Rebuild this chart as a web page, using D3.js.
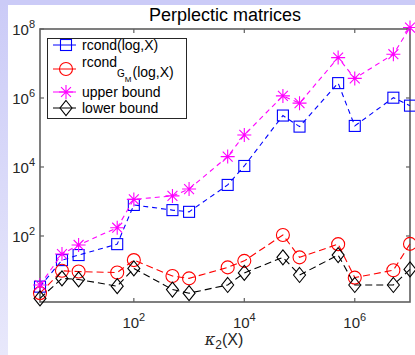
<!DOCTYPE html>
<html>
<head>
<meta charset="utf-8">
<script src="https://cdn.jsdelivr.net/npm/d3@7"></script>
<style>
  html, body { margin: 0; padding: 0; background: #fff; }
  svg { display: block; font-family: "Liberation Sans", Arial, sans-serif; }
</style>
</head>
<body>
<div id="chart"></div>
<script>
// kappa_2(X) of the test matrices
const kappa = [2, 5, 10, 50, 100, 500, 1000, 5000, 1e4, 5e4, 1e5, 5e5, 1e6, 5e6, 1e7];

const rcondLog = [3.4, 20, 28, 58, 794, 562, 501, 3020, 10700, 3.1e5, 1.48e5, 2.7e6, 1.55e5, 1.02e6, 6.0e5];
const rcondGM = [2.2, 9.8, 9.3, 8.7, 20, 6.9, 5.9, 12.3, 19, 107, 24, 58, 6.2, 10.2, 59];
const upperBound = [3.8, 30, 55, 174, 1150, 1450, 2290, 2.0e4, 8.5e4, 1.15e6, 7.1e5, 1.48e7, 3.7e6, 1.86e7, 1.1e8];
const lowerBound = [1.55, 5.9, 5.5, 3.5, 11.5, 2.8, 2.2, 3.8, 8.5, 24, 7.4, 28, 3.8, 3.8, 10.7];

const xTicks = [2, 4, 6];
const yTicks = [2, 4, 6, 8];

const W = 415, H = 355;
const margin = { top: 29, right: 5, bottom: 53, left: 40 };
const plotW = W - margin.left - margin.right;
const plotH = H - margin.top - margin.bottom;

const svg = d3.select('#chart').append('svg')
  .attr('width', W)
  .attr('height', H);

// lavender figure edge
const grad = svg.append('defs').append('linearGradient')
  .attr('id', 'edge').attr('x1', 0).attr('y1', 0).attr('x2', 0).attr('y2', 1);
grad.append('stop').attr('offset', '0%').attr('stop-color', '#cbcbf7');
grad.append('stop').attr('offset', '100%').attr('stop-color', '#e8e8fb');
svg.append('rect').attr('width', W).attr('height', H).attr('fill', '#fff');
svg.append('rect').attr('width', 8).attr('height', H).attr('fill', 'url(#edge)');
svg.append('rect').attr('width', W).attr('height', 5).attr('fill', '#cbcbf7');

const x = d3.scaleLog().domain([2, 1e7]).range([margin.left, margin.left + plotW]);
const y = d3.scaleLog().domain([1.22, 1e8]).range([margin.top + plotH, margin.top]);

const axisColor = '#5f5f5f';

// box with inward ticks
const axes = svg.append('g');
axes.append('rect')
  .attr('x', margin.left).attr('y', margin.top)
  .attr('width', plotW).attr('height', plotH)
  .attr('fill', 'none').attr('stroke', axisColor).attr('stroke-width', 1.6);

xTicks.forEach(e => {
  const px = x(Math.pow(10, e));
  axes.append('line').attr('x1', px).attr('x2', px)
    .attr('y1', margin.top + plotH).attr('y2', margin.top + plotH - 4)
    .attr('stroke', axisColor).attr('stroke-width', 1.2);
  axes.append('line').attr('x1', px).attr('x2', px)
    .attr('y1', margin.top).attr('y2', margin.top + 4)
    .attr('stroke', axisColor).attr('stroke-width', 1.2);
  const t = axes.append('text')
    .attr('x', px).attr('y', margin.top + plotH + 26)
    .attr('text-anchor', 'middle')
    .style('font-size', '15px').attr('fill', '#262626');
  t.append('tspan').text('10');
  t.append('tspan').attr('dy', -7).style('font-size', '11px').text(e);
});

yTicks.forEach(e => {
  const py = y(Math.pow(10, e));
  axes.append('line').attr('x1', margin.left).attr('x2', margin.left + 4)
    .attr('y1', py).attr('y2', py)
    .attr('stroke', axisColor).attr('stroke-width', 1.2);
  axes.append('line').attr('x1', margin.left + plotW).attr('x2', margin.left + plotW - 4)
    .attr('y1', py).attr('y2', py)
    .attr('stroke', axisColor).attr('stroke-width', 1.2);
  const t = axes.append('text')
    .attr('x', margin.left - 5).attr('y', py + 6)
    .attr('text-anchor', 'end')
    .style('font-size', '15px').attr('fill', '#262626');
  t.append('tspan').text('10');
  t.append('tspan').attr('dy', -7).style('font-size', '11px').text(e);
});

// title and x label
svg.append('text')
  .attr('x', 225).attr('y', 21)
  .attr('text-anchor', 'middle')
  .style('font-size', '18px').attr('fill', '#000')
  .text('Perplectic matrices');

const xl = svg.append('text')
  .attr('x', 224).attr('y', 345)
  .attr('text-anchor', 'middle')
  .style('font-size', '16px').attr('fill', '#262626');
xl.append('tspan').style('font-family', '"DejaVu Serif", serif').style('font-style', 'italic').text('κ');
xl.append('tspan').attr('dy', 4).style('font-size', '12px').text('2');
xl.append('tspan').attr('dy', -4).text('(X)');

// marker shapes
function drawMarker(g, kind, cx, cy, color) {
  const s = g.append('g').attr('transform', `translate(${cx},${cy})`)
    .attr('fill', 'none').attr('stroke', color).attr('stroke-width', 1.1);
  if (kind === 'square') {
    s.append('rect').attr('x', -5.5).attr('y', -5.5).attr('width', 11).attr('height', 11);
  } else if (kind === 'circle') {
    s.append('circle').attr('r', 6.5);
  } else if (kind === 'diamond') {
    s.append('path').attr('d', 'M0,-7.5L6,0L0,7.5L-6,0Z');
  } else {
    const r = 7;
    const d = r * Math.SQRT1_2;
    s.append('path').attr('d',
      `M${-r},0L${r},0M0,${-r}L0,${r}M${-d},${-d}L${d},${d}M${-d},${d}L${d},${-d}`);
  }
}

const series = [
  { name: 'rcond', values: rcondLog, color: '#0000ff', marker: 'square', dash: '5,4' },
  { name: 'gm', values: rcondGM, color: '#ff0000', marker: 'circle', dash: '7,4' },
  { name: 'upper', values: upperBound, color: '#ff00ff', marker: 'star', dash: '5,4' },
  { name: 'lower', values: lowerBound, color: '#000000', marker: 'diamond', dash: '7,4' }
];

const line = d3.line()
  .x(d => x(d[0]))
  .y(d => y(d[1]));

const plot = svg.append('g');
series.forEach(s => {
  const pts = kappa.map((k, i) => [k, s.values[i]]);
  plot.append('path')
    .datum(pts)
    .attr('d', line)
    .attr('fill', 'none')
    .attr('stroke', s.color)
    .attr('stroke-width', 1.1)
    .attr('stroke-dasharray', s.dash);
  pts.forEach(p => drawMarker(plot, s.marker, x(p[0]), y(p[1]), s.color));
});

// legend
const legend = svg.append('g');
legend.append('rect')
  .attr('x', 47.5).attr('y', 38.5).attr('width', 139).attr('height', 80)
  .attr('fill', '#fff').attr('stroke', '#262626').attr('stroke-width', 1);

const legendRows = [
  { s: series[0], y: 45 },
  { s: series[1], y: 69 },
  { s: series[2], y: 92 },
  { s: series[3], y: 108 }
];
legendRows.forEach(r => {
  legend.append('line')
    .attr('x1', 53).attr('x2', 76).attr('y1', r.y).attr('y2', r.y)
    .attr('stroke', r.s.color).attr('stroke-width', 1);
  drawMarker(legend, r.s.marker, 66, r.y, r.s.color);
});

function legendText(yy) {
  return legend.append('text').attr('x', 82).attr('y', yy)
    .style('font-size', '14px').attr('fill', '#000');
}
legendText(50).text('rcond(log,X)');
const gm = legendText(67);
gm.append('tspan').text('rcond');
gm.append('tspan').attr('dy', 10).style('font-size', '10px').text('G');
gm.append('tspan').attr('dy', 5).style('font-size', '8px').text('M');
gm.append('tspan').attr('dy', -5).attr('dx', 1).text('(log,X)');
legendText(97).text('upper bound');
legendText(113).text('lower bound');
</script>
</body>
</html>
